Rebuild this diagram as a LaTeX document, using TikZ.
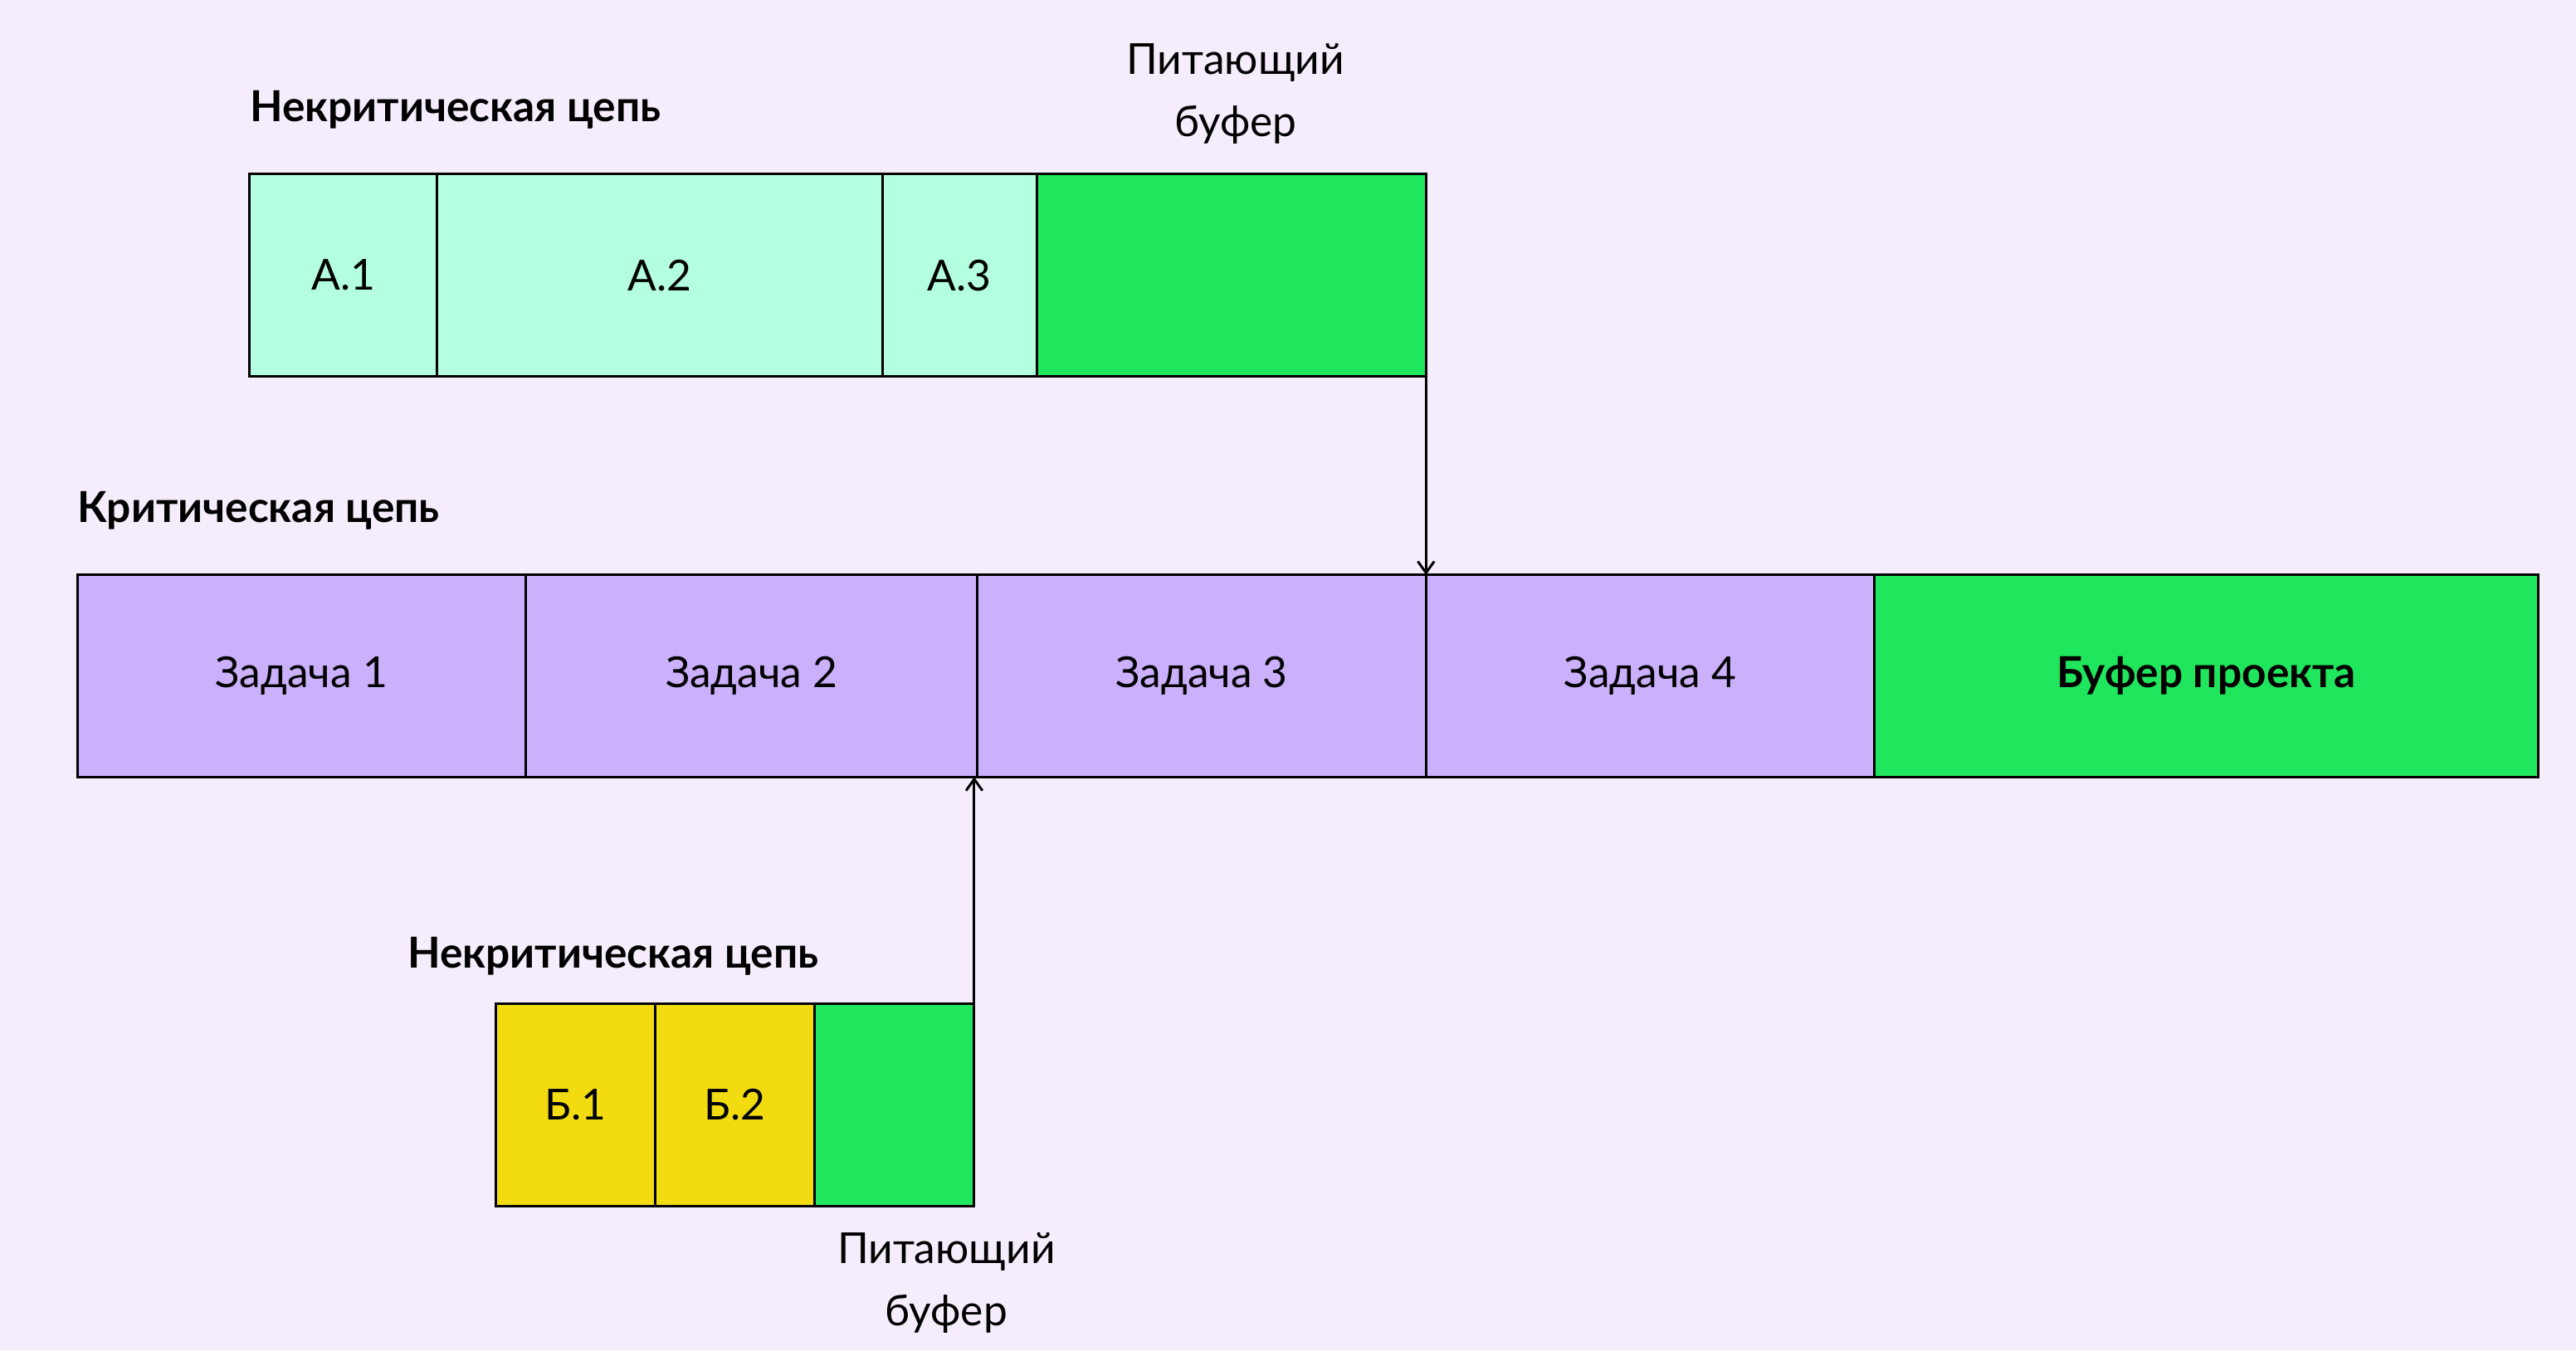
\documentclass[tikz,border=0pt]{standalone}
\usepackage{fontspec}
\setmainfont{Lato}
\usetikzlibrary{arrows.meta}
\definecolor{bg}{HTML}{F5EDFC}
\definecolor{mint}{HTML}{B3FFE0}
\definecolor{grn}{HTML}{1FE65C}
\definecolor{purp}{HTML}{CBB0FC}
\definecolor{yel}{HTML}{F2DC11}
\tikzset{
  cell/.style={draw=black,line width=1.5pt,inner sep=0pt,font=\fontsize{26}{30}\selectfont},
  ttl/.style={anchor=west,font=\bfseries\fontsize{26}{30}\selectfont,inner sep=0pt},
  lbl/.style={align=center,font=\fontsize{26}{38}\selectfont,inner sep=0pt},
  arr/.style={line width=1.5pt,-{Straight Barb[length=7pt,width=10pt]}}
}
\begin{document}
\begin{tikzpicture}[x=1pt,y=-1pt]
\fill[bg] (0,0) rectangle (1568,822);
\useasboundingbox (0,0) rectangle (1568,822);
% top chain
\node[ttl] (t1) at (152,67) {Некритическая цепь};
\node[lbl] (pb1) at (752,57) {Питающий\\буфер};
\path[cell,fill=mint] (152,106) rectangle (266,229) node[midway] (a1) {А.1};
\path[cell,fill=mint] (266,106) rectangle (537,229) node[midway] (a2) {А.2};
\path[cell,fill=mint] (537,106) rectangle (631,229) node[midway] (a3) {А.3};
\path[cell,fill=grn] (631,106) rectangle (868,229) node[midway] (fa) {};
% critical
\node[ttl] (t2) at (47,311) {Критическая цепь};
\path[cell,fill=purp] (47,350) rectangle (320,473) node[midway] (z1) {Задача 1};
\path[cell,fill=purp] (320,350) rectangle (595,473) node[midway] (z2) {Задача 2};
\path[cell,fill=purp] (595,350) rectangle (868,473) node[midway] (z3) {Задача 3};
\path[cell,fill=purp] (868,350) rectangle (1141,473) node[midway] (z4) {Задача 4};
\path[cell,fill=grn] (1141,350) rectangle (1545,473) node[midway,font=\bfseries\fontsize{26}{30}\selectfont] (pb) {Буфер проекта};
% bottom chain
\node[ttl] (t3) at (248,582) {Некритическая цепь};
\path[cell,fill=yel] (302,611) rectangle (399,734) node[midway] (b1) {Б.1};
\path[cell,fill=yel] (399,611) rectangle (496,734) node[midway] (b2) {Б.2};
\path[cell,fill=grn] (496,611) rectangle (593,734) node[midway] (fb) {};
\node[lbl] (pb2) at (576,781) {Питающий\\буфер};
% arrows
\coordinate (s1) at (868,229); \coordinate (e1) at (868,350);
\coordinate (s2) at (593,611); \coordinate (e2) at (593,473);
\draw[arr] (s1) -- (e1);
\draw[arr] (s2) -- (e2);
\end{tikzpicture}
\end{document}
